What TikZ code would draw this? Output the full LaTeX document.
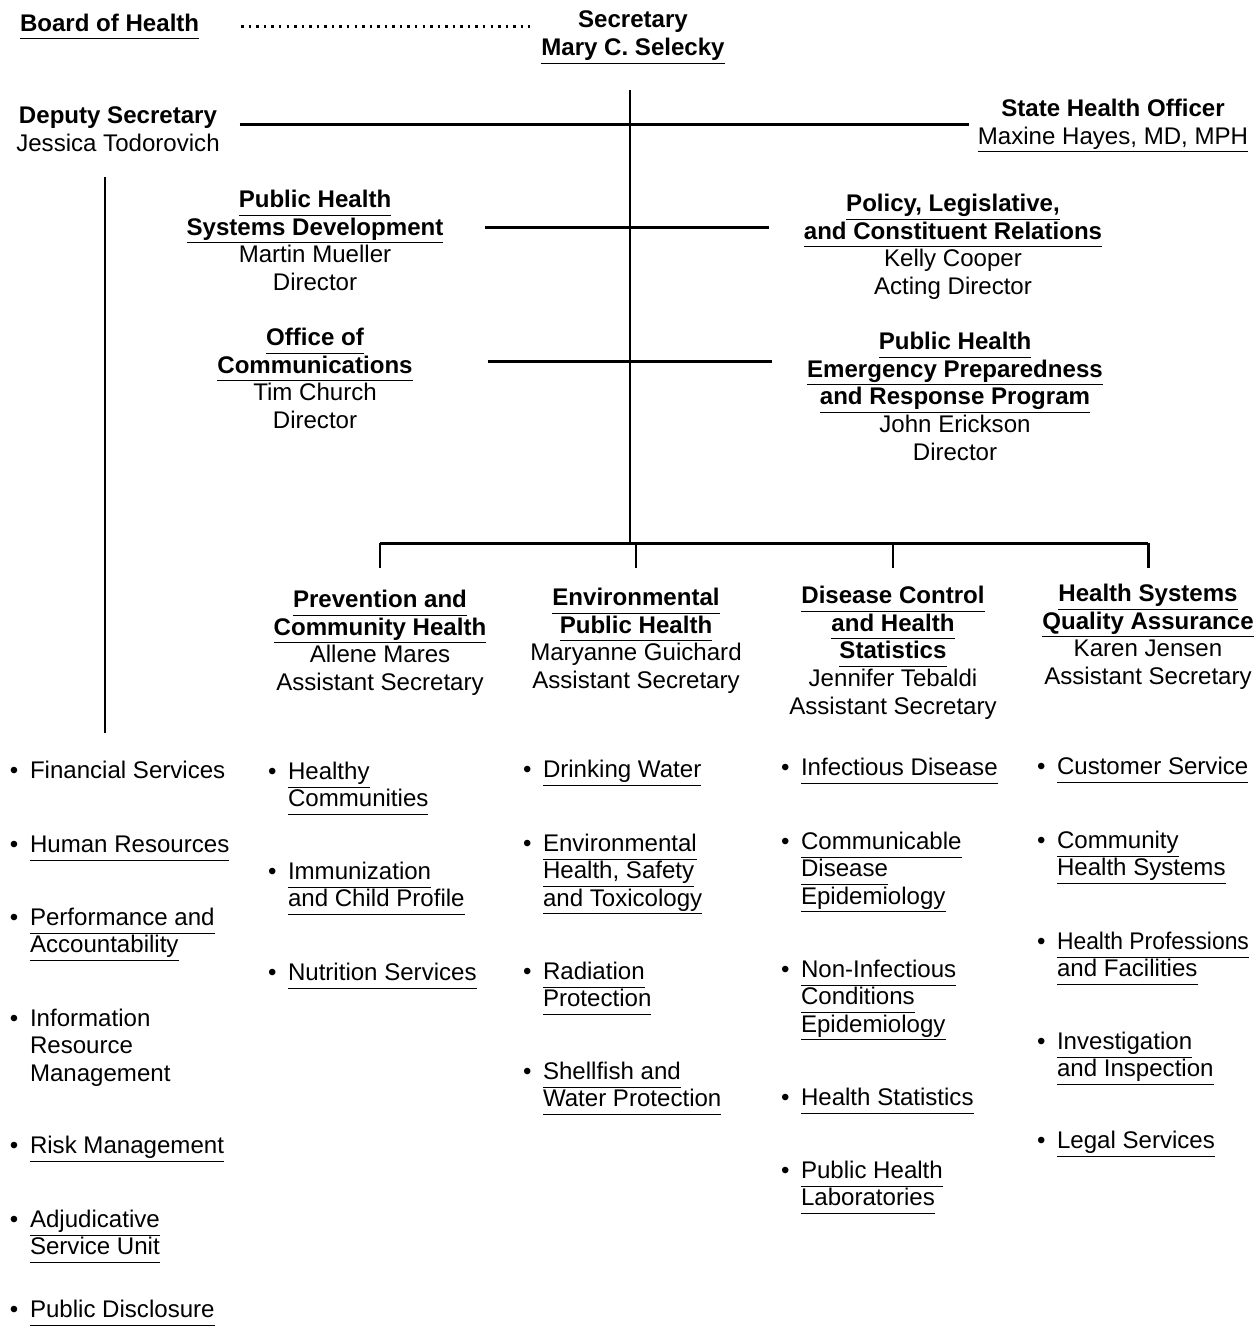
\documentclass[tikz,border=0pt]{standalone}
\usepackage{fontspec}
\setmainfont{Liberation Sans}
\usetikzlibrary{positioning, calc}

\newcommand{\orgul}[1]{\underline{#1\vphantom{y}}}
\newcommand{\bul}{\textbullet\hspace{6.6pt}}
\newcommand{\ind}{\hphantom{\textbullet\hspace{6.6pt}}}

\tikzset{
  orgtext/.style={align=center, inner sep=0pt, outer sep=0pt, anchor=north,
    font=\fontsize{13.7pt}{15.8pt}\selectfont},
  unittext/.style={align=left, inner sep=0pt, outer sep=0pt, anchor=north west,
    font=\fontsize{13.7pt}{15.6pt}\selectfont},
  orgline/.style={line width=1.7pt},
  dotline/.style={line width=1.8pt, dash pattern=on 1.4pt off 2.9pt},
}

\begin{document}
\begin{tikzpicture}[x=0.02cm,y=-0.02cm]
  \useasboundingbox (0,0) rectangle (1255,1330);

  % top of the chart
  \node[orgtext, anchor=base west] (board) at (20,31) {\textbf{\orgul{Board of Health}}};
  \node[orgtext] (sec) at (633,11) {\textbf{Secretary}\\ \textbf{\orgul{Mary C. Selecky}}};
  \node[orgtext] (dep) at (118,107) {\textbf{Deputy Secretary}\\ Jessica Todorovich};
  \node[orgtext] (sho) at (1113,99) {\textbf{State Health Officer}\\ \orgul{Maxine Hayes, MD, MPH}};

  % staff offices
  \node[orgtext] (phsd) at (315,190) {\textbf{\orgul{Public Health}}\\ \textbf{\orgul{Systems Development}}\\ Martin Mueller\\ Director};
  \node[orgtext] (policy) at (953,194) {\textbf{\orgul{Policy, Legislative,}}\\ \textbf{\orgul{and Constituent Relations}}\\ Kelly Cooper\\ Acting Director};
  \node[orgtext] (comm) at (315,328) {\textbf{\orgul{Office of}}\\ \textbf{\orgul{Communications}}\\ Tim Church\\ Director};
  \node[orgtext] (phep) at (955,332) {\textbf{\orgul{Public Health}}\\ \textbf{\orgul{Emergency Preparedness}}\\ \textbf{\orgul{and Response Program}}\\ John Erickson\\ Director};

  % divisions
  \node[orgtext] (pch) at (380,590) {\textbf{\orgul{Prevention and}}\\ \textbf{\orgul{Community Health}}\\ Allene Mares\\ Assistant Secretary};
  \node[orgtext] (eph) at (636,588) {\textbf{\orgul{Environmental}}\\ \textbf{\orgul{Public Health}}\\ Maryanne Guichard\\ Assistant Secretary};
  \node[orgtext] (dch) at (893,586) {\textbf{\orgul{Disease Control}}\\ \textbf{\orgul{and Health}}\\ \textbf{\orgul{Statistics}}\\ Jennifer Tebaldi\\ Assistant Secretary};
  \node[orgtext] (hsq) at (1148,584) {\textbf{\orgul{Health Systems}}\\ \textbf{\orgul{Quality Assurance}}\\ Karen Jensen\\ Assistant Secretary};

  % connectors
  \coordinate (spineTop) at (630,90);
  \coordinate (spineBot) at (630,543);
  \coordinate (tier1) at (630,124);
  \coordinate (tier2) at (630,227);
  \coordinate (tier3) at (630,361);
  \draw[dotline, shorten <=0.84cm, shorten >=0.22cm] (board.east) -- (board.east -| sec.west);
  \draw[orgline] (spineTop) -- (spineBot);
  \draw[orgline, shorten <=0.4cm, shorten >=0.18cm] (dep.east |- tier1) -- (sho.west |- tier1);
  \draw[orgline, shorten <=0.84cm, shorten >=0.7cm] (phsd.east |- tier2) -- (policy.west |- tier2);
  \draw[orgline, shorten <=1.5cm, shorten >=0.7cm] (comm.east |- tier3) -- (phep.west |- tier3);
  \draw[orgline] (pch.north |- spineBot) -- (hsq.north |- spineBot);
  \foreach \n in {pch,eph,dch,hsq}
    \draw[orgline] (\n.north |- spineBot) -- ++(0,25);
  \draw[orgline] ($(dep.south)+(-13,25)$) -- ++(0,556);

  % deputy secretary units
  \node[unittext] (fin) at (10,761) {\bul Financial Services};
  \node[unittext] (hr) at (10,836) {\bul\orgul{Human Resources}};
  \node[unittext] (perf) at (10,908) {\bul\orgul{Performance and}\\ \ind\orgul{Accountability}};
  \node[unittext] (irm) at (10,1009) {\bul Information\\ \ind Resource\\ \ind Management};
  \node[unittext] (risk) at (10,1136) {\bul\orgul{Risk Management}};
  \node[unittext] (adj) at (10,1210) {\bul\orgul{Adjudicative}\\ \ind\orgul{Service Unit}};
  \node[unittext] (pubd) at (10,1300) {\bul\orgul{Public Disclosure}};

  % prevention and community health units
  \node[unittext] (healthy) at (268,762) {\bul\orgul{Healthy}\\ \ind\orgul{Communities}};
  \node[unittext] (immun) at (268,862) {\bul\orgul{Immunization}\\ \ind\orgul{and Child Profile}};
  \node[unittext] (nutr) at (268,963) {\bul\orgul{Nutrition Services}};

  % environmental public health units
  \node[unittext] (drink) at (523,760) {\bul\orgul{Drinking Water}};
  \node[unittext] (envh) at (523,834) {\bul\orgul{Environmental}\\ \ind\orgul{Health, Safety}\\ \ind\orgul{and Toxicology}};
  \node[unittext] (rad) at (523,962) {\bul\orgul{Radiation}\\ \ind\orgul{Protection}};
  \node[unittext] (shell) at (523,1062) {\bul\orgul{Shellfish and}\\ \ind\orgul{Water Protection}};

  % disease control units
  \node[unittext] (infd) at (781,758) {\bul\orgul{Infectious Disease}};
  \node[unittext] (cde) at (781,832) {\bul\orgul{Communicable}\\ \ind\orgul{Disease}\\ \ind\orgul{Epidemiology}};
  \node[unittext] (nice) at (781,960) {\bul\orgul{Non-Infectious}\\ \ind\orgul{Conditions}\\ \ind\orgul{Epidemiology}};
  \node[unittext] (hstat) at (781,1088) {\bul\orgul{Health Statistics}};
  \node[unittext] (phl) at (781,1161) {\bul\orgul{Public Health}\\ \ind\orgul{Laboratories}};

  % quality assurance units
  \node[unittext] (cust) at (1037,757) {\bul\orgul{Customer Service}};
  \node[unittext] (chs) at (1037,831) {\bul\orgul{Community}\\ \ind\orgul{Health Systems}};
  \node[unittext] (hpf) at (1037,932) {\bul\scalebox{0.95}[1]{\orgul{Health Professions}}\\ \ind\orgul{and Facilities}};
  \node[unittext] (inv) at (1037,1032) {\bul\orgul{Investigation}\\ \ind\orgul{and Inspection}};
  \node[unittext] (legal) at (1037,1131) {\bul\orgul{Legal Services}};
\end{tikzpicture}
\end{document}
